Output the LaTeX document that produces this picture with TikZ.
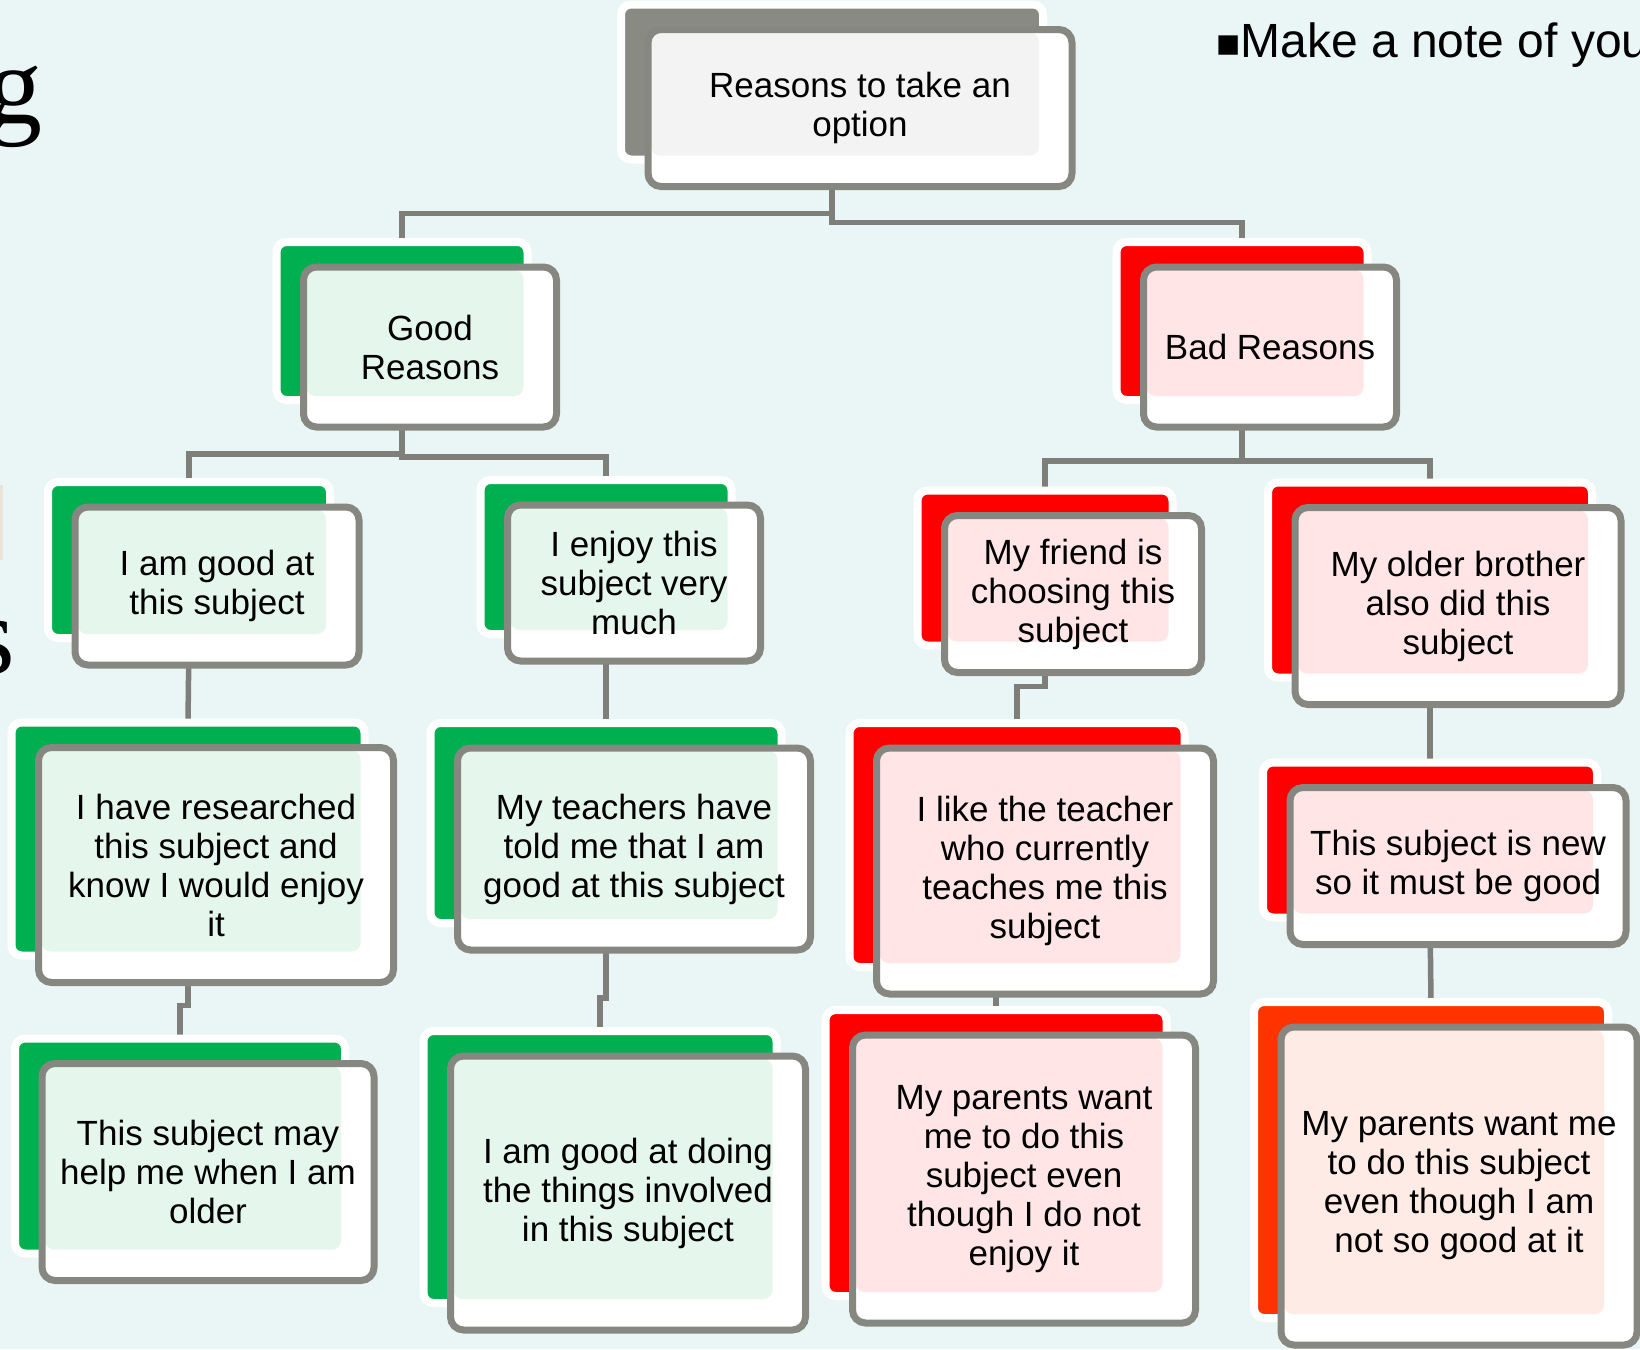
\documentclass[tikz,border=0pt]{standalone}
\usepackage{fontspec}
\setmainfont{Liberation Sans}
\newfontfamily\titleserif{Liberation Serif}
\pgfdeclarelayer{bg}
\pgfdeclarelayer{lines}
\pgfdeclarelayer{cards}
\pgfsetlayers{bg,lines,cards,main}
\definecolor{slide}{RGB}{234,246,246}
\definecolor{rootgray}{RGB}{138,138,133}
\definecolor{edgegray}{RGB}{135,135,130}
\definecolor{linkgray}{RGB}{126,126,122}
\definecolor{goodgreen}{RGB}{0,176,80}
\definecolor{badred}{RGB}{255,0,0}
\definecolor{hotred}{RGB}{255,51,0}
\definecolor{paleline}{RGB}{232,228,218}
\newcommand{\reason}[7]{%
  \node[cardfront, minimum width=#4, minimum height=#5] at (#2,#3) (#1) {#7};
  \begin{pgfonlayer}{cards}
    \node[cardback, fill=#6, minimum width=#4-2, minimum height=#5-2] at ([shift={(-28,-26)}]#1.center) (#1b) {};
    \fill[white, rounded corners=13] (#1.north west) rectangle (#1.south east);
    \fill[#6!10, rounded corners=9] ([shift={(3,3)}]#1.north west) rectangle ([shift={(-4,-4)}]#1b.south east);
  \end{pgfonlayer}}

\begin{document}
\begin{tikzpicture}[x=1pt, y=-1pt,
    cardfront/.style={rectangle, draw=edgegray, line width=7pt, rounded corners=13pt, inner sep=0pt, outer sep=0pt, align=center, font=\fontsize{35}{39}\selectfont},
    cardback/.style={rectangle, draw=white, line width=8pt, rounded corners=10pt, inner sep=0pt, outer sep=0pt},
    link/.style={draw=linkgray, line width=5.5pt},
    title/.style={anchor=base east, inner sep=0pt, font=\titleserif\fontsize{112}{112}\selectfont}]
    \useasboundingbox (0,0) rectangle (1640,1349);
    \begin{pgfonlayer}{bg}
        \fill[slide] (0,0) rectangle (1640,1349);
        \fill[paleline] (0,485) rectangle (3,560);
    \end{pgfonlayer}
    \node[title] at (43,123) (titleg) {g};
    \node[title] at (15,673) (titles) {s};
    \node[anchor=base west, inner sep=0pt, font=\fontsize{48}{48}\selectfont] at (1216,57) (note) {{\fontsize{40}{40}\selectfont ■}Make a note of you};
    \reason{root}{860}{108}{424}{157}{rootgray}{Reasons to take an\\option}
    \reason{good}{430}{347}{253}{160}{goodgreen}{Good\\Reasons}
    \reason{bad}{1270}{347}{253}{160}{badred}{Bad Reasons}
    \reason{goodat}{217}{586}{284}{158}{goodgreen}{I am good at\\this subject}
    \reason{enjoy}{634}{583}{253}{156}{goodgreen}{I enjoy this\\subject very\\much}
    \reason{friend}{1073}{594}{257}{157}{badred}{My friend is\\choosing this\\subject}
    \reason{brother}{1458}{606}{326}{197}{badred}{My older brother\\also did this\\subject}
    \reason{research}{216}{865}{355}{235}{goodgreen}{I have researched\\this subject and\\know I would enjoy\\it}
    \reason{teachers}{634}{849}{353}{202}{goodgreen}{My teachers have\\told me that I am\\good at this subject}
    \reason{liketeacher}{1045}{871}{337}{246}{badred}{I like the teacher\\who currently\\teaches me this\\subject}
    \reason{newsubj}{1458}{866}{336}{157}{badred}{This subject is new\\so it must be good}
    \reason{older}{208}{1172}{332}{217}{goodgreen}{This subject may\\help me when I am\\older}
    \reason{doing}{628}{1193}{355}{274}{goodgreen}{I am good at doing\\the things involved\\in this subject}
    \reason{notenjoy}{1024}{1179}{343}{288}{badred}{My parents want\\me to do this\\subject even\\though I do not\\enjoy it}
    \reason{notgood}{1459}{1186}{356}{318}{hotred}{My parents want me\\to do this subject\\even though I am\\not so good at it}
    \begin{pgfonlayer}{lines}
        \draw[link] (rootb.south) -- ++(0,54) -| (goodb.north);
        \draw[link] (rootb.south) -- ++(0,63) -| (badb.north);
        \draw[link] (goodb.south) -- ++(0,54) -| (goodatb.north);
        \draw[link] (goodb.south) -- ++(0,57) -| (enjoyb.north);
        \draw[link] (badb.south) -- ++(0,61) -| (friendb.north);
        \draw[link] (badb.south) -- ++(0,61) -| (brotherb.north);
        \draw[link] (goodatb.south) -- (researchb.north);
        \draw[link] (enjoyb.south) -- (teachersb.north);
        \draw[link] (friendb.south) -- ++(0,41) -| (liketeacherb.north);
        \draw[link] (brotherb.south) -- (newsubjb.north);
        \draw[link] (researchb.south) -- ++(0,50) -| (olderb.north);
        \draw[link] (teachersb.south) -- ++(0,75) -| (doingb.north);
        \draw[link] (liketeacherb.south) -- ++(0,14) -| (notenjoyb.north);
        \draw[link] (newsubjb.south) -- (notgoodb.north);
    \end{pgfonlayer}
\end{tikzpicture}
\end{document}
